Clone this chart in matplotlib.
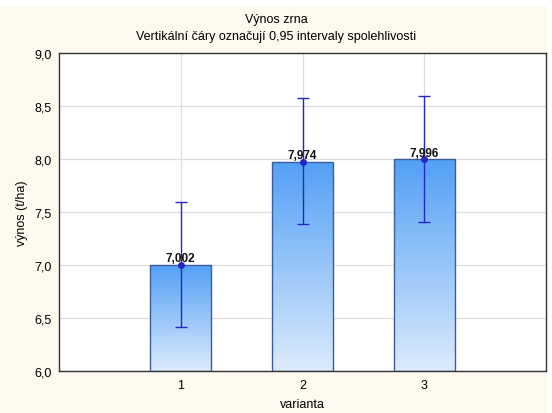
import numpy as np
import matplotlib
matplotlib.use('Agg')
import matplotlib.pyplot as plt
from matplotlib.patches import Rectangle
from matplotlib.colors import LinearSegmentedColormap

plt.rcParams['font.family'] = ['Liberation Sans', 'DejaVu Sans']

# průměrné výnosy a 95% intervaly spolehlivosti
varianta = [1, 2, 3]
prumer = [7.002, 7.974, 7.996]
ci_horni = [7.594, 8.573, 8.591]
ci_dolni = [6.415, 7.384, 7.403]
y_ticks = [6.0, 6.5, 7.0, 7.5, 8.0, 8.5, 9.0]

fig = plt.figure(figsize=(5.52, 4.14), dpi=100, facecolor='white')
# krémové pozadí grafu
fig.patches.append(Rectangle((0, 0), 547 / 552, 407 / 414, transform=fig.transFigure,
                             facecolor='#fdf9ee', edgecolor='none', zorder=-10))

ax = fig.add_axes([59 / 552, 42 / 414, 487 / 552, 318 / 414])
ax.set_facecolor('white')
ax.set_xlim(0, 4)
ax.set_ylim(6, 9)

cmap = LinearSegmentedColormap.from_list('modra', ['#dcebfc', '#52a0f6'])
grad = np.linspace(0, 1, 256).reshape(-1, 1)
sirka = 0.5
for x, m in zip(varianta, prumer):
    rect = Rectangle((x - sirka / 2, 6), sirka, m - 6, facecolor='none',
                     edgecolor='#3b5c9c', linewidth=1.0, zorder=3)
    ax.add_patch(rect)
    im = ax.imshow(grad, cmap=cmap, origin='lower', aspect='auto',
                   extent=(x - sirka / 2, x + sirka / 2, 6, m), zorder=2)
    im.set_clip_path(rect)
    ax.text(x, m + 0.005, f'{m:.3f}'.replace('.', ','), ha='center', va='bottom',
            fontsize=8.5, fontweight='bold', color='#111111', zorder=6)

err = [np.array(prumer) - np.array(ci_dolni), np.array(ci_horni) - np.array(prumer)]
ax.errorbar(varianta, prumer, yerr=err, fmt='o', color='#2626c4', ecolor='#2626c4',
            markersize=4, capsize=4.5, elinewidth=1.0, capthick=1.0, zorder=5)

ax.set_xticks(varianta)
ax.set_yticks(y_ticks)
ax.set_yticklabels([f'{v:.1f}'.replace('.', ',') for v in y_ticks])
ax.grid(True, color='#dcdcdc', linewidth=0.9, zorder=0)
ax.set_axisbelow(True)
ax.tick_params(axis='x', direction='in', length=3, labelsize=9, pad=6, color='#333333')
ax.tick_params(axis='y', length=0, labelsize=9, pad=5)
for s in ax.spines.values():
    s.set_color('#333333')
    s.set_linewidth(1.0)

ax.set_xlabel('varianta', fontsize=9, labelpad=5)
ax.set_ylabel('výnos (t/ha)', fontsize=9, labelpad=5)
fig.text(0.5, 394 / 414, 'Výnos zrna', ha='center', va='center', fontsize=9)
fig.text(0.5, 377 / 414, 'Vertikální čáry označují 0,95 intervaly spolehlivosti',
         ha='center', va='center', fontsize=9)

fig.savefig('out.png', dpi=100, facecolor=fig.get_facecolor())
